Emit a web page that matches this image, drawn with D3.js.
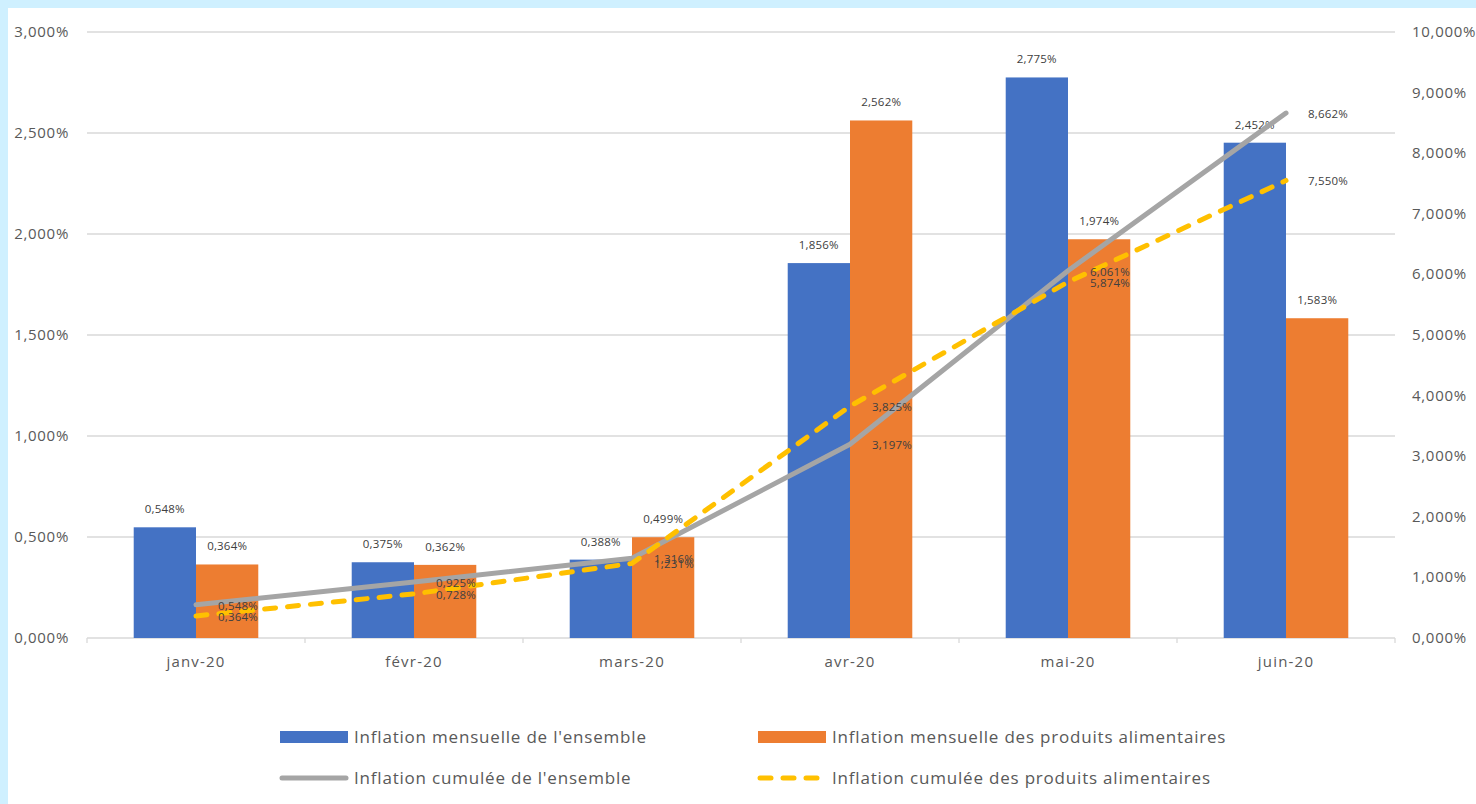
<!DOCTYPE html>
<html>
<head>
<meta charset="utf-8">
<script src="https://cdn.jsdelivr.net/npm/d3@7"></script>
<style>
  body { margin: 0; background: #fff; }
  svg { display: block; font-family: "Open Sans", "Noto Sans", sans-serif; }
</style>
</head>
<body>
<script>
// data
var months = ["janv-20", "févr-20", "mars-20", "avr-20", "mai-20", "juin-20"];
var mensuelEnsemble = [0.548, 0.375, 0.388, 1.856, 2.775, 2.452];
var mensuelAlim = [0.364, 0.362, 0.499, 2.562, 1.974, 1.583];
var cumulEnsemble = [0.548, 0.925, 1.316, 3.197, 6.061, 8.662];
var cumulAlim = [0.364, 0.728, 1.231, 3.825, 5.874, 7.550];
var leftTicks = [0, 0.5, 1, 1.5, 2, 2.5, 3];
var rightTicks = [0, 1, 2, 3, 4, 5, 6, 7, 8, 9, 10];
var seriesNames = ["Inflation mensuelle de l'ensemble", "Inflation mensuelle des produits alimentaires",
    "Inflation cumulée de l'ensemble", "Inflation cumulée des produits alimentaires"];

var W = 1476, H = 804;
var blue = "#4472C4", orange = "#ED7D31", grey = "#A5A5A5", yellow = "#FFC000";
var txt = "#595959", lbl = "#404040";

var svg = d3.select("body").append("svg")
    .attr("width", W)
    .attr("height", H);

// light blue frame on top and left
svg.append("rect").attr("width", W).attr("height", H).attr("fill", "#CFF0FF");
svg.append("rect").attr("x", 8).attr("y", 8).attr("width", W - 8).attr("height", H - 8).attr("fill", "#fff");

// plot area (note: "top" is reserved on window, so use other names)
var pLeft = 87, pRight = 1395, pTop = 32, pBottom = 638;

var x = d3.scaleBand().domain(months).range([pLeft, pRight]);
var xs = d3.scaleBand().domain([0, 1]).range([0, x.bandwidth()]).paddingOuter(0.75).paddingInner(0);
var yL = d3.scaleLinear().domain([0, 3]).range([pBottom, pTop]);
var yR = d3.scaleLinear().domain([0, 10]).range([pBottom, pTop]);

function fmt(v) { return d3.format(".3f")(v).replace(".", ",") + "%"; }

// gridlines
svg.append("g").selectAll("line")
    .data(leftTicks)
    .enter().append("line")
    .attr("x1", pLeft).attr("x2", pRight)
    .attr("y1", function(d) { return yL(d); })
    .attr("y2", function(d) { return yL(d); })
    .attr("stroke", "#D9D9D9").attr("stroke-width", 1.3);

// left axis labels
svg.append("g").selectAll("text")
    .data(leftTicks)
    .enter().append("text")
    .attr("x", 69)
    .attr("y", function(d) { return yL(d) + 5; })
    .attr("text-anchor", "end")
    .attr("font-size", 15)
    .attr("letter-spacing", 0.7)
    .attr("fill", txt)
    .text(fmt);

// right axis labels
svg.append("g").selectAll("text")
    .data(rightTicks)
    .enter().append("text")
    .attr("x", 1412)
    .attr("y", function(d) { return yR(d) + 5; })
    .attr("font-size", 15)
    .attr("letter-spacing", 0.7)
    .attr("fill", txt)
    .text(fmt);

// x axis ticks between categories
var tickPos = months.map(function(m) { return x(m); }).concat([pRight]);
svg.append("g").selectAll("line")
    .data(tickPos)
    .enter().append("line")
    .attr("x1", function(d) { return d; }).attr("x2", function(d) { return d; })
    .attr("y1", pBottom).attr("y2", pBottom + 5)
    .attr("stroke", "#D9D9D9").attr("stroke-width", 1.3);

svg.append("g").selectAll("text")
    .data(months)
    .enter().append("text")
    .attr("x", function(d) { return x(d) + x.bandwidth() / 2; })
    .attr("y", 667)
    .attr("text-anchor", "middle")
    .attr("font-size", 15)
    .attr("letter-spacing", 1.2)
    .attr("fill", txt)
    .text(function(d) { return d; });

// bars
var barSeries = [
    { values: mensuelEnsemble, color: blue, idx: 0 },
    { values: mensuelAlim, color: orange, idx: 1 }
];
barSeries.forEach(function(s) {
    var g = svg.append("g");
    g.selectAll("rect")
        .data(s.values)
        .enter().append("rect")
        .attr("x", function(d, i) { return x(months[i]) + xs(s.idx); })
        .attr("y", function(d) { return yL(d); })
        .attr("width", xs.bandwidth())
        .attr("height", function(d) { return pBottom - yL(d); })
        .attr("fill", s.color);
    g.selectAll("text")
        .data(s.values)
        .enter().append("text")
        .attr("x", function(d, i) { return x(months[i]) + xs(s.idx) + xs.bandwidth() / 2; })
        .attr("y", function(d) { return yL(d) - 14; })
        .attr("text-anchor", "middle")
        .attr("font-size", 11.5)
        .attr("letter-spacing", 0.2)
        .attr("fill", lbl)
        .text(fmt);
});

// cumulative lines
var line = d3.line()
    .x(function(d, i) { return x(months[i]) + x.bandwidth() / 2; })
    .y(function(d) { return yR(d); });

svg.append("path")
    .datum(cumulEnsemble)
    .attr("d", line)
    .attr("fill", "none")
    .attr("stroke", grey)
    .attr("stroke-width", 5)
    .attr("stroke-linecap", "round")
    .attr("stroke-linejoin", "round");

svg.append("path")
    .datum(cumulAlim)
    .attr("d", line)
    .attr("fill", "none")
    .attr("stroke", yellow)
    .attr("stroke-width", 5)
    .attr("stroke-linecap", "round")
    .attr("stroke-dasharray", "11,12");

[cumulEnsemble, cumulAlim].forEach(function(vals) {
    svg.append("g").selectAll("text")
        .data(vals)
        .enter().append("text")
        .attr("x", function(d, i) { return x(months[i]) + x.bandwidth() / 2 + 22; })
        .attr("y", function(d) { return yR(d) + 5; })
        .attr("font-size", 11.5)
        .attr("letter-spacing", 0.2)
        .attr("fill", lbl)
        .text(fmt);
});

// legend
var legend = [
    { name: seriesNames[0], type: "bar", color: blue, x: 280, y: 737 },
    { name: seriesNames[1], type: "bar", color: orange, x: 758, y: 737 },
    { name: seriesNames[2], type: "line", color: grey, x: 280, y: 778 },
    { name: seriesNames[3], type: "dash", color: yellow, x: 758, y: 778 }
];
var lg = svg.append("g").selectAll("g")
    .data(legend)
    .enter().append("g")
    .attr("transform", function(d) { return "translate(" + d.x + "," + d.y + ")"; });

lg.filter(function(d) { return d.type == "bar"; })
    .append("rect")
    .attr("x", 0).attr("y", -6)
    .attr("width", 68).attr("height", 12)
    .attr("fill", function(d) { return d.color; });

lg.filter(function(d) { return d.type != "bar"; })
    .append("line")
    .attr("x1", 2).attr("x2", 66)
    .attr("y1", 0).attr("y2", 0)
    .attr("stroke", function(d) { return d.color; })
    .attr("stroke-width", 5)
    .attr("stroke-linecap", "round")
    .attr("stroke-dasharray", function(d) { return d.type == "dash" ? "11,12" : null; });

lg.append("text")
    .attr("x", 74)
    .attr("y", 6)
    .attr("font-size", 17)
    .attr("letter-spacing", 0.8)
    .attr("fill", txt)
    .text(function(d) { return d.name; });
</script>
</body>
</html>
